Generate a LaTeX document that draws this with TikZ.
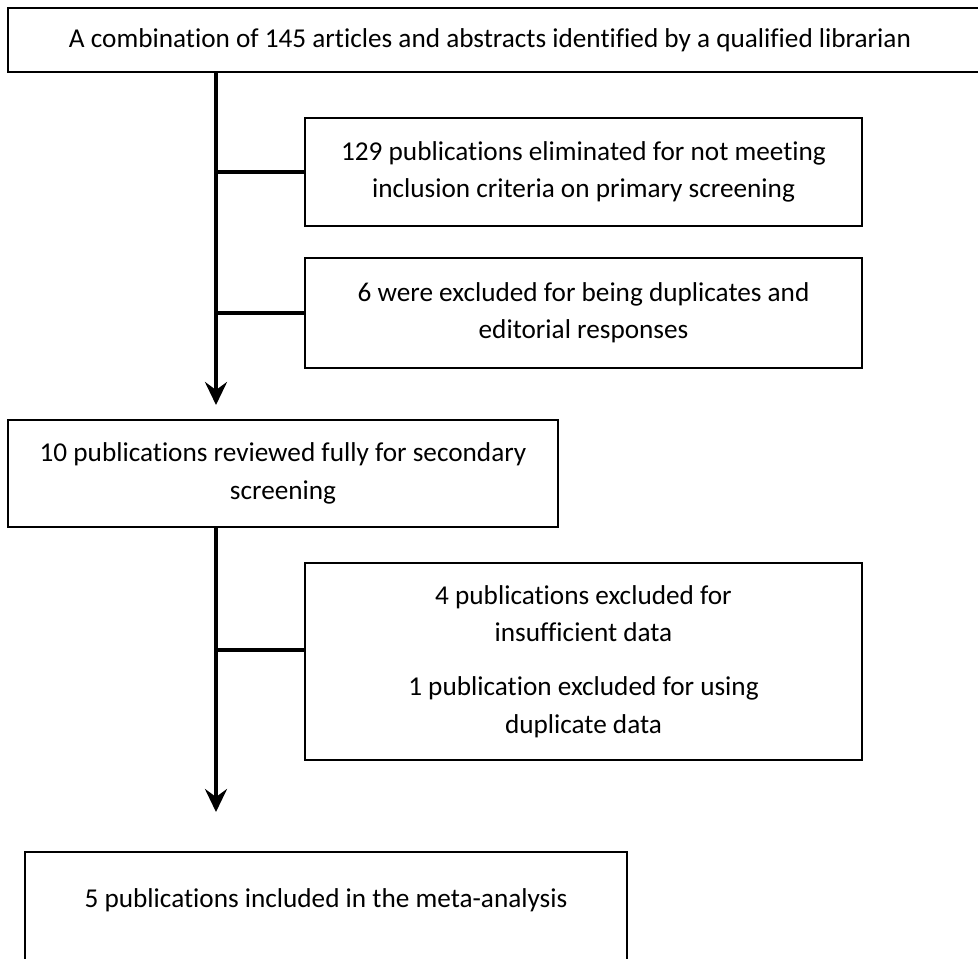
\documentclass[tikz,border=0pt]{standalone}
\usepackage{fontspec}
\setmainfont{Carlito}[RawFeature={-liga}]
\usetikzlibrary{arrows.meta}
\begin{document}
\begin{tikzpicture}[x=0.02cm,y=-0.02cm,
  box/.style={draw,line width=1.1pt,rectangle,align=center,inner sep=0pt,
    font=\fontsize{15.5}{21.3}\selectfont},
  link/.style={line width=2.3pt},
  flow/.style={link,-{Stealth[length=0.46cm,width=0.44cm,inset=0.16cm]}}]
\clip (0,0) rectangle (978,959);
\node[box,minimum width=19.64cm,minimum height=1.28cm] (src) at (499,40)
  {A combination of 145 articles and abstracts identified by a qualified librarian\hspace*{0.36cm}};
\node[box,minimum width=11.14cm,minimum height=2.16cm] (excl1) at (583.5,172)
  {129 publications eliminated for not meeting\\inclusion criteria on primary screening};
\node[box,minimum width=11.14cm,minimum height=2.2cm] (excl2) at (583.5,313)
  {6 were excluded for being duplicates and\\editorial responses};
\node[box,minimum width=11cm,minimum height=2.14cm] (rev) at (283,473.5)
  {10 publications reviewed fully for secondary\\screening};
\node[box,minimum width=11.14cm,minimum height=3.94cm] (excl3) at (583.5,661.5)
  {4 publications excluded for\\insufficient data\\[0.34cm]
   1 publication excluded for using\\duplicate data};
\node[box,minimum width=12.04cm,minimum height=3.32cm] (incl) at (326,935)
  {5 publications included in the meta-analysis\\\mbox{}\\\mbox{}};
% trunks
\coordinate (t1) at (216,72);
\coordinate (a1) at (216,405);
\coordinate (t2) at (216,527);
\coordinate (a2) at (216,812);
\draw[flow] (t1) -- (a1);
\draw[flow] (t2) -- (a2);
\draw[link] (t1 |- excl1.west) -- (excl1.west);
\draw[link] (t1 |- excl2.west) -- (excl2.west);
\draw[link] (t2 |- 0,650) -- (excl3.west |- 0,650);
\end{tikzpicture}
\end{document}
